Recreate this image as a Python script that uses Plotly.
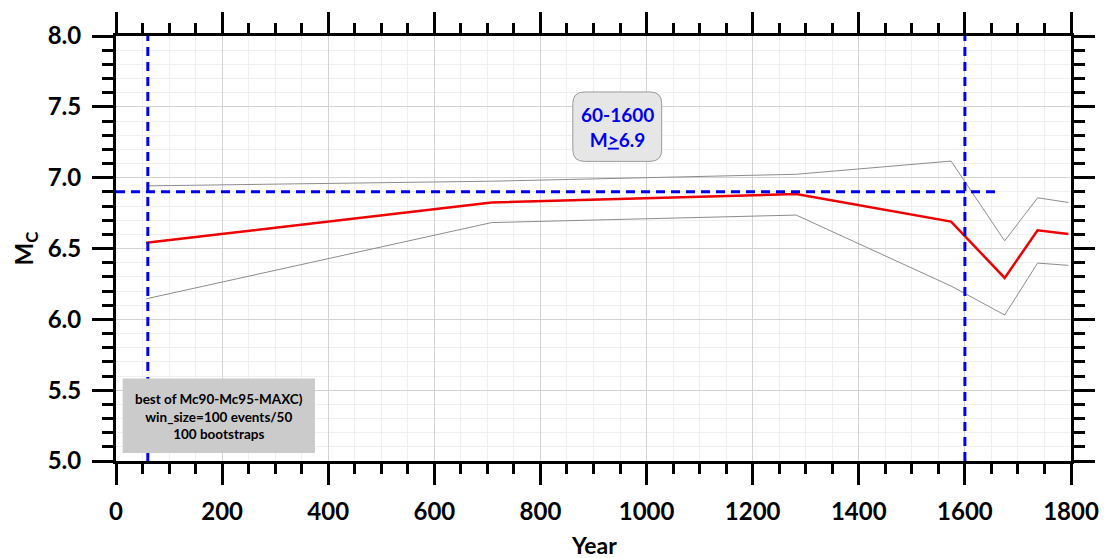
import plotly.graph_objects as go

# ---- data ----
years = [57, 708, 1282, 1574, 1675, 1737, 1795]
mc_best = [6.54, 6.825, 6.884, 6.69, 6.292, 6.629, 6.603]
mc_upper = [6.942, 6.975, 7.024, 7.117, 6.554, 6.858, 6.825]
mc_lower = [6.145, 6.683, 6.736, 6.235, 6.031, 6.397, 6.381]

window_start = 60
window_end = 1600
mag_threshold = 6.9
threshold_line_end = 1665

x_ticks = [0, 200, 400, 600, 800, 1000, 1200, 1400, 1600, 1800]
y_ticks = [5.0, 5.5, 6.0, 6.5, 7.0, 7.5, 8.0]

box_label = "60-1600<br>M<u>&gt;</u>6.9"
info_label = "best of Mc90-Mc95-MAXC)<br>win_size=100 events/50<br>100 bootstraps"

FONT = "Lato"

fig = go.Figure()
fig.add_trace(go.Scatter(x=years, y=mc_upper, mode="lines",
                         line=dict(color="#8c8c8c", width=1), showlegend=False))
fig.add_trace(go.Scatter(x=years, y=mc_lower, mode="lines",
                         line=dict(color="#8c8c8c", width=1), showlegend=False))
fig.add_trace(go.Scatter(x=years, y=mc_best, mode="lines",
                         line=dict(color="#ee0000", width=2.5), showlegend=False))

dash = "9px,6px"
shapes = [
    dict(type="line", xref="x", yref="y", x0=window_start, x1=window_start, y0=5, y1=8,
         line=dict(color="#0000ee", width=3, dash=dash), layer="above"),
    dict(type="line", xref="x", yref="y", x0=window_end, x1=window_end, y0=5, y1=8,
         line=dict(color="#0000ee", width=3, dash=dash), layer="above"),
    dict(type="line", xref="x", yref="y", x0=0, x1=threshold_line_end,
         y0=mag_threshold, y1=mag_threshold,
         line=dict(color="#0000ee", width=3, dash=dash), layer="above"),
    # bottom-left info box
    dict(type="rect", xref="x", yref="y", x0=12.6, x1=375, y0=5.057, y1=5.582,
         fillcolor="#cbcbcb", line=dict(width=0), layer="above"),
]

# rounded box for the window label
bx0, bx1, by0, by1 = 861, 1028.5, 7.115, 7.605
rx, ry = 22, 0.082
path = (f"M {bx0+rx},{by0} L {bx1-rx},{by0} Q {bx1},{by0} {bx1},{by0+ry} "
        f"L {bx1},{by1-ry} Q {bx1},{by1} {bx1-rx},{by1} "
        f"L {bx0+rx},{by1} Q {bx0},{by1} {bx0},{by1-ry} "
        f"L {bx0},{by0+ry} Q {bx0},{by0} {bx0+rx},{by0} Z")
shapes.append(dict(type="path", xref="x", yref="y", path=path,
                   fillcolor="#e6e6e6", line=dict(color="#9a9a9a", width=1), layer="above"))

annotations = [
    dict(x=(bx0 + bx1) / 2, y=(by0 + by1) / 2, xref="x", yref="y", text=box_label,
         showarrow=False, font=dict(family=FONT, size=19, color="#0000ee", weight="bold"),
         align="center"),
    dict(x=194, y=5.315, xref="x", yref="y", text=info_label, showarrow=False,
         font=dict(family=FONT, size=13.5, color="black", weight="bold"), align="center"),
    dict(x=0.5, y=0, xref="paper", yref="paper", text="Year", showarrow=False,
         yshift=-84, yanchor="middle",
         font=dict(family=FONT, size=23, color="black", weight="bold")),
    dict(x=0, y=0.5, xref="paper", yref="paper", text="M<sub>C</sub>", showarrow=False,
         xshift=-91, xanchor="center", yanchor="middle", textangle=-90,
         font=dict(family=FONT, size=24, color="black", weight="bold")),
]

axis_common = dict(
    showline=True, linewidth=3, linecolor="black", mirror="allticks",
    ticks="outside", tickwidth=3, tickcolor="black", ticklen=21,
    showgrid=True, gridcolor="#d3d3d3", gridwidth=1, zeroline=False,
    tickfont=dict(family=FONT, size=24, color="black", weight="bold"),
)

fig.update_layout(
    width=1112, height=558,
    margin=dict(l=116, r=41, t=33, b=97),
    paper_bgcolor="white", plot_bgcolor="white",
    shapes=shapes, annotations=annotations,
    xaxis=dict(range=[0, 1800], tickmode="array", tickvals=x_ticks,
               ticklabelstandoff=6,
               minor=dict(dtick=50, tick0=0, ticks="outside", ticklen=10, tickwidth=3,
                          tickcolor="black", showgrid=True, gridcolor="#efefef", gridwidth=1),
               **axis_common),
    yaxis=dict(range=[5, 8], tickmode="array", tickvals=y_ticks, tickformat=".1f",
               ticklabelstandoff=6,
               minor=dict(dtick=0.1, tick0=5, ticks="outside", ticklen=11, tickwidth=3,
                          tickcolor="black", showgrid=True, gridcolor="#efefef", gridwidth=1),
               **axis_common),
)

fig.write_html("out.html")
